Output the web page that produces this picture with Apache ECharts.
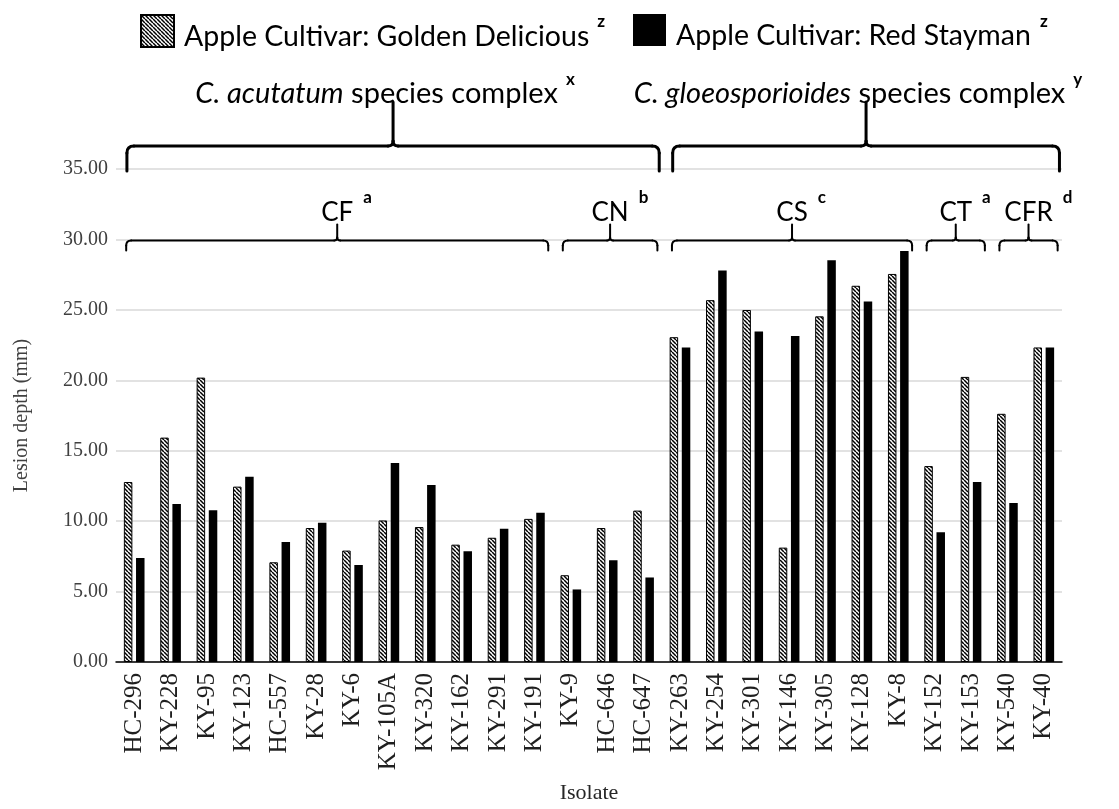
<!DOCTYPE html>
<html>
<head>
<meta charset="utf-8">
<script src="https://cdn.jsdelivr.net/npm/echarts@6/dist/echarts.min.js"></script>
<style>
  html, body { margin: 0; padding: 0; background: #ffffff; }
  #chart { width: 1119px; height: 809px; }
</style>
</head>
<body>
<div id="chart"></div>
<script>
// Lesion depth (mm) per isolate on two apple cultivars
const isolates = ['HC-296', 'KY-228', 'KY-95', 'KY-123', 'HC-557', 'KY-28', 'KY-6', 'KY-105A', 'KY-320',
  'KY-162', 'KY-291', 'KY-191', 'KY-9', 'HC-646', 'HC-647', 'KY-263', 'KY-254', 'KY-301', 'KY-146',
  'KY-305', 'KY-128', 'KY-8', 'KY-152', 'KY-153', 'KY-540', 'KY-40'];
const goldenDelicious = [12.78, 15.93, 20.19, 12.45, 7.08, 9.51, 7.91, 10.05, 9.58, 8.33, 8.82, 10.16, 6.16,
  9.51, 10.75, 23.06, 25.69, 24.99, 8.12, 24.54, 26.71, 27.55, 13.91, 20.24, 17.62, 22.33];
const redStayman = [7.39, 11.22, 10.78, 13.15, 8.52, 9.88, 6.89, 14.12, 12.56, 7.86, 9.46, 10.59, 5.15,
  7.22, 6.00, 22.33, 27.79, 23.46, 23.15, 28.52, 25.60, 29.18, 9.22, 12.78, 11.29, 22.33];
const seriesNames = ['Apple Cultivar: Golden Delicious', 'Apple Cultivar: Red Stayman'];
const seriesNotes = ['z', 'z'];

// Species complexes (upper braces) and clades (lower braces), by isolate index range
const complexes = [
  { italic: 'C. acutatum', rest: ' species complex', note: 'x', first: 0, last: 14 },
  { italic: 'C. gloeosporioides', rest: ' species complex', note: 'y', first: 15, last: 25 }
];
const clades = [
  { name: 'CF', note: 'a', first: 0, last: 11 },
  { name: 'CN', note: 'b', first: 12, last: 14 },
  { name: 'CS', note: 'c', first: 15, last: 21 },
  { name: 'CT', note: 'a', first: 22, last: 23 },
  { name: 'CFR', note: 'd', first: 24, last: 25 }
];

// y axis scale
const yMin = 0, yMax = 35, yStep = 5;

const SANS = 'Lato, "Open Sans", sans-serif';
const SERIF = '"Liberation Serif", "Times New Roman", serif';
const LEGEND_SIZE = 28.5, COMPLEX_SIZE = 29, CLADE_SIZE = 26, NOTE_SIZE = 17;
const NOTE_FONT = 'bold ' + NOTE_SIZE + 'px ' + SANS;

// diagonal hatch tile for the Golden Delicious bars
const tile = document.createElement('canvas');
tile.width = 4; tile.height = 4;
const tg = tile.getContext('2d');
tg.fillStyle = '#ffffff';
tg.fillRect(0, 0, 4, 4);
tg.strokeStyle = '#000000';
tg.lineWidth = 1.5;
[-4, 0, 4].forEach(o => { tg.beginPath(); tg.moveTo(o, 0); tg.lineTo(o + 4, 4); tg.stroke(); });
const hatch = { image: tile, repeat: 'repeat' };

const measureCtx = document.createElement('canvas').getContext('2d');
function textWidth(str, font) { measureCtx.font = font; return measureCtx.measureText(str).width; }

const chart = echarts.init(document.getElementById('chart'), null, { renderer: 'canvas' });

// legend layout
const legendLeft = [140, 633], legendTop = 14, iconW = 33, iconH = 32;

function legendFor(idx) {
  return {
    data: [seriesNames[idx]],
    left: legendLeft[idx],
    top: legendTop,
    padding: 0,
    itemWidth: iconW,
    itemHeight: iconH,
    selectedMode: false,
    icon: 'rect',
    formatter: name => '{n|' + name + '}',
    textStyle: {
      rich: {
        n: { fontFamily: SANS, fontSize: LEGEND_SIZE, color: '#000', lineHeight: 40, verticalAlign: 'bottom', padding: [0, 0, 0, 5] }
      }
    }
  };
}

chart.setOption({
  animation: false,
  backgroundColor: '#ffffff',
  legend: [legendFor(0), legendFor(1)],
  grid: { left: 116, right: 57, top: 169, bottom: 144, containLabel: false },
  xAxis: {
    type: 'category',
    data: isolates,
    name: 'Isolate',
    nameLocation: 'middle',
    nameGap: 120,
    nameTextStyle: { fontFamily: SERIF, fontSize: 22, color: '#262626' },
    axisLine: { show: true, lineStyle: { color: '#000', width: 1.5 } },
    axisTick: { show: false },
    axisLabel: { interval: 0, rotate: 90, margin: 11, fontFamily: SERIF, fontSize: 25, color: '#1f1f1f' },
    splitLine: { show: false }
  },
  yAxis: {
    type: 'value',
    min: yMin,
    max: yMax,
    interval: yStep,
    name: 'Lesion depth (mm)',
    nameLocation: 'middle',
    nameGap: 84,
    nameTextStyle: { fontFamily: SERIF, fontSize: 20, color: '#404040' },
    axisLine: { show: false },
    axisTick: { show: false },
    axisLabel: { margin: 8, fontFamily: SERIF, fontSize: 20, color: '#404040', formatter: v => v.toFixed(2) },
    splitLine: { show: true, lineStyle: { color: '#d9d9d9', width: 1.5 } }
  },
  series: [
    {
      name: seriesNames[0],
      type: 'bar',
      data: goldenDelicious,
      barWidth: 8.5,
      barGap: '43%',
      itemStyle: { color: hatch, borderColor: '#000', borderWidth: 1 }
    },
    {
      name: seriesNames[1],
      type: 'bar',
      data: redStayman,
      barWidth: 8.5,
      barGap: '43%',
      itemStyle: { color: '#000000' }
    }
  ]
});

// ---- braces, group labels and superscript notes ----
function seg(x1, y1, x2, y2, w) {
  return { type: 'line', silent: true, shape: { x1, y1, x2, y2 }, style: { stroke: '#000', lineWidth: w, lineCap: 'round' } };
}
function curve(x1, y1, cpx, cpy, x2, y2, w) {
  return { type: 'bezierCurve', silent: true, shape: { x1, y1, x2, y2, cpx1: cpx, cpy1: cpy },
    style: { stroke: '#000', lineWidth: w, fill: null, lineCap: 'round' } };
}
function brace(x0, x1, yLine, yEnd, yTip, r, rs, w) {
  const xm = (x0 + x1) / 2;
  return [
    seg(x0, yEnd, x0, yLine + r, w),
    curve(x0, yLine + r, x0, yLine, x0 + r, yLine, w),
    seg(x0 + r, yLine, xm - rs, yLine, w),
    curve(xm - rs, yLine, xm, yLine, xm, yLine - rs, w),
    seg(xm, yLine - rs, xm, yTip, w),
    curve(xm + rs, yLine, xm, yLine, xm, yLine - rs, w),
    seg(xm + rs, yLine, x1 - r, yLine, w),
    curve(x1 - r, yLine, x1, yLine, x1, yLine + r, w),
    seg(x1, yLine + r, x1, yEnd, w)
  ];
}
function text(str, x, y, font, align, vAlign) {
  return { type: 'text', silent: true, x, y,
    style: { text: str, font, fill: '#000', textAlign: align, textVerticalAlign: vAlign, align: align, verticalAlign: vAlign } };
}

function drawAnnotations() {
  const cx = i => chart.convertToPixel({ xAxisIndex: 0 }, i);
  const cy = v => chart.convertToPixel({ yAxisIndex: 0 }, v);
  const band = cx(1) - cx(0);
  let els = [];
  const legendFont = LEGEND_SIZE + 'px ' + SANS;
  const fontR = COMPLEX_SIZE + 'px ' + SANS;
  const fontI = 'italic ' + COMPLEX_SIZE + 'px ' + SANS;
  const cladeFont = CLADE_SIZE + 'px ' + SANS;

  // legend superscripts
  seriesNames.forEach((name, k) => {
    const x = legendLeft[k] + iconW + 10 + textWidth(name, legendFont) + 9;
    els.push(text(seriesNotes[k], x, legendTop + 16, NOTE_FONT, 'left', 'bottom'));
  });

  // upper braces: species complexes
  const bigLine = cy(yMax) - 23, bigEnd = cy(yMax) + 2, bigTip = bigLine - 44;
  complexes.forEach(g => {
    const x0 = cx(g.first) - 0.2 * band, x1 = cx(g.last) + 0.43 * band;
    els = els.concat(brace(x0, x1, bigLine, bigEnd, bigTip, 7, 5, 3));
    const wI = textWidth(g.italic, fontI), wR = textWidth(g.rest, fontR), wN = textWidth(g.note, NOTE_FONT);
    const total = wI + wR + 8 + wN;
    const start = (x0 + x1) / 2 - 0.22 * band - total / 2;
    const mid = bigLine - 52;
    els.push(text(g.italic, start, mid, fontI, 'left', 'middle'));
    els.push(text(g.rest, start + wI, mid, fontR, 'left', 'middle'));
    els.push(text(g.note, start + wI + wR + 8, mid - 6, NOTE_FONT, 'left', 'bottom'));
  });

  // lower braces: clades
  const smallLine = cy(30) + 1, smallEnd = smallLine + 10, smallTip = smallLine - 16;
  clades.forEach(g => {
    const x0 = cx(g.first) - 0.22 * band, x1 = cx(g.last) + 0.38 * band;
    const xm = (x0 + x1) / 2;
    els = els.concat(brace(x0, x1, smallLine, smallEnd, smallTip, 5, 3, 2));
    const w = textWidth(g.name, cladeFont);
    const mid = smallLine - 28;
    els.push(text(g.name, xm, mid, cladeFont, 'center', 'middle'));
    els.push(text(g.note, xm + w / 2 + 10, mid - 6, NOTE_FONT, 'left', 'bottom'));
  });

  chart.setOption({ graphic: { elements: els } });
}

drawAnnotations();
</script>
</body>
</html>
